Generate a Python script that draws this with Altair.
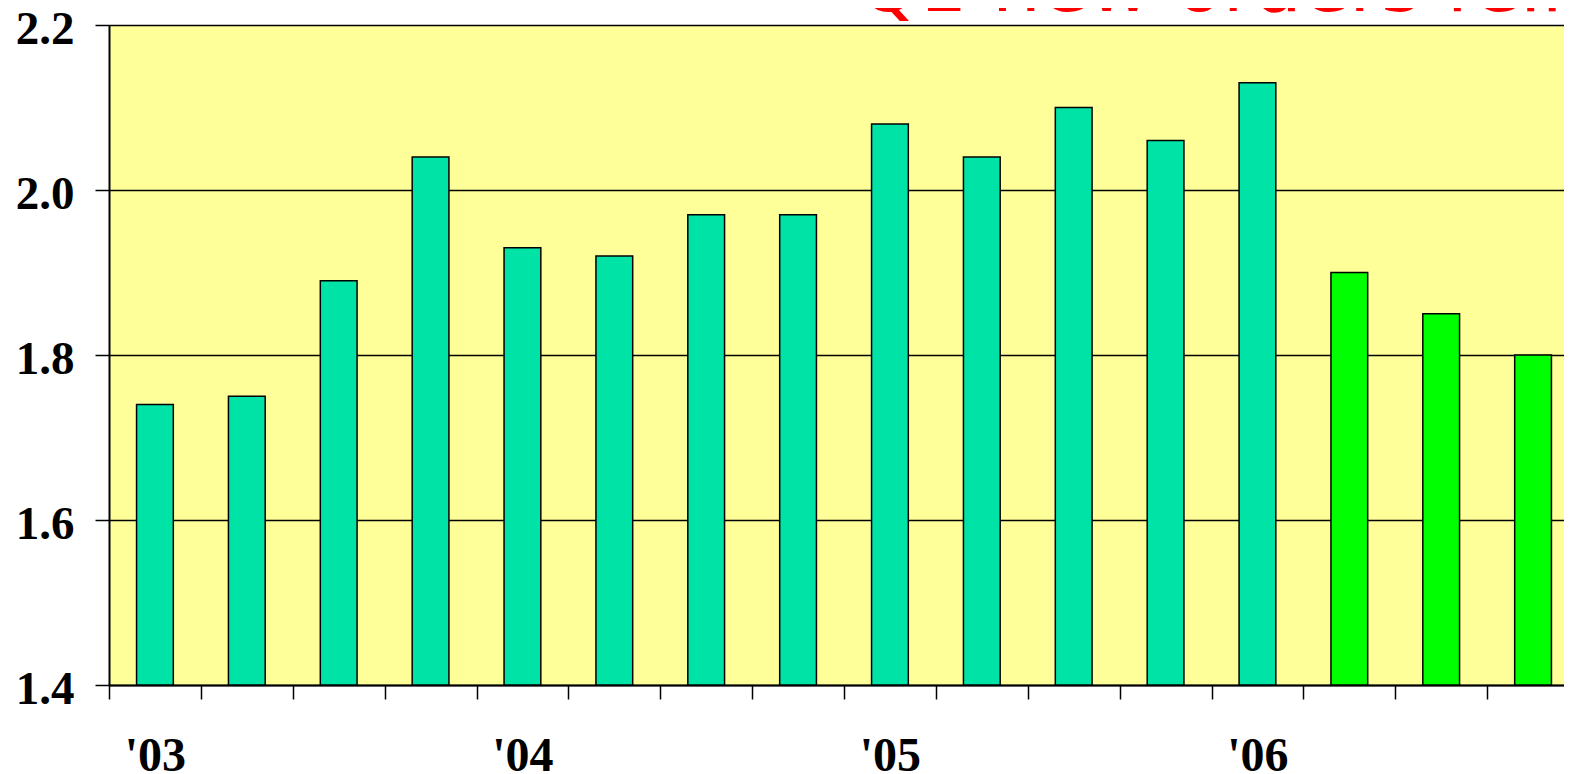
import altair as alt
import pandas as pd

# ---- data ----
quarters = [
    "2003 Q1", "2003 Q2", "2003 Q3", "2003 Q4",
    "2004 Q1", "2004 Q2", "2004 Q3", "2004 Q4",
    "2005 Q1", "2005 Q2", "2005 Q3", "2005 Q4",
    "2006 Q1", "2006 Q2", "2006 Q3", "2006 Q4",
]
values = [1.74, 1.75, 1.89, 2.04, 1.93, 1.92, 1.97, 1.97,
          2.08, 2.04, 2.10, 2.06, 2.13, 1.90, 1.85, 1.80]
kinds = ["actual"] * 13 + ["recent"] * 3
kind_domain = ["actual", "recent"]
kind_colors = ["#00E3A6", "#00FF00"]
y_ticks = [1.4, 1.6, 1.8, 2.0, 2.2]
title_text = ["Q1 new orders fell"]

df = pd.DataFrame({"quarter": quarters, "value": values, "kind": kinds})
title_df = pd.DataFrame({"t": title_text})

label_font = "Liberation Serif"
band_extent = 1470          # the 16 quarters span this many pixels (runs past the page edge)
plot_w = 1455               # visible plot width
half_step = band_extent / len(quarters) / 2

x_axis = alt.Axis(
    title=None,
    labelExpr="indexof(datum.value, 'Q1') >= 0 ? \"'\" + substring(datum.value, 2, 4) : ''",
    labelAngle=0,
    labelFont=label_font,
    labelFontWeight="bold",
    labelFontSize=48,
    labelColor="black",
    labelPadding=33,
    labelOverlap=False,
    tickSize=14,
    tickWidth=1.5,
    tickColor="black",
    tickOffset=-half_step,
    labelOffset=half_step,
    domainColor="black",
    domainWidth=2,
    grid=False,
)

y_axis = alt.Axis(
    title=None,
    values=y_ticks,
    format=".1f",
    labelFont=label_font,
    labelFontWeight="bold",
    labelFontSize=47,
    labelColor="black",
    labelPadding=21,
    labelOffset=4,
    tickSize=14,
    tickWidth=1.5,
    tickColor="black",
    domainColor="black",
    domainWidth=2,
    grid=True,
    gridColor="black",
    gridWidth=1.6,
    gridOpacity=1,
)

bars = alt.Chart(df).mark_bar(stroke="black", strokeWidth=1.5).encode(
    x=alt.X("quarter:N", sort=quarters,
            scale=alt.Scale(range=[0, band_extent], paddingInner=0.6, paddingOuter=0.3),
            axis=x_axis),
    y=alt.Y("value:Q",
            scale=alt.Scale(domain=[1.4, 2.2], zero=False, nice=False, clamp=True),
            axis=y_axis),
    color=alt.Color("kind:N", scale=alt.Scale(domain=kind_domain, range=kind_colors),
                    legend=None),
)

title = alt.Chart(title_df).mark_text(
    align="left", baseline="alphabetic", font="DejaVu Sans",
    fontSize=77, color="#FF0000",
).encode(
    x=alt.value(749),
    y=alt.value(-14),
    text="t:N",
)

chart = alt.layer(bars, title).properties(
    width=plot_w,
    height=660,
    autosize=alt.AutoSizeParams(type="none"),
    padding={"left": 101, "top": 17, "right": 0, "bottom": 89},
    background="white",
).configure_view(stroke=None, fill="#FFFF99")

chart.save("out.html", embed_options={"renderer": "svg", "actions": False})
